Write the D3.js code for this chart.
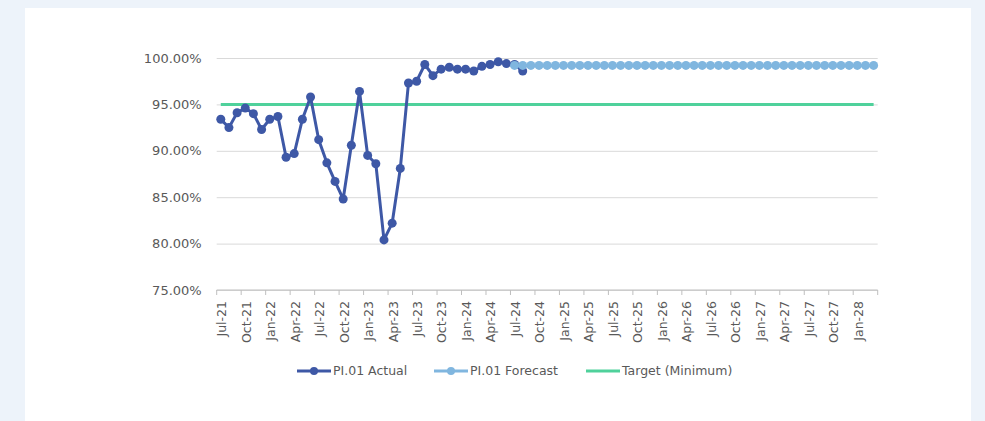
<!DOCTYPE html>
<html>
<head>
<meta charset="utf-8">
<script src="https://cdn.jsdelivr.net/npm/d3@7"></script>
<style>
	body { margin: 0; background: #edf3fa; }
	svg { display: block; }
	.tick text { font-family: "DejaVu Sans", sans-serif; fill: #595959; }
	.legend text { font-family: "DejaVu Sans", sans-serif; fill: #595959; font-size: 12.5px; }
</style>
</head>
<body>
<script>
// months Jul-21 .. Mar-28
var startMonth = new Date(2021, 6, 1);
var endMonth = new Date(2028, 3, 1);
var categories = d3.timeMonth.range(startMonth, endMonth);

var actual = [
	93.4, 92.5, 94.1, 94.6, 94.0, 92.3, 93.4, 93.7, 89.3, 89.7,
	93.4, 95.8, 91.2, 88.7, 86.7, 84.8, 90.6, 96.4, 89.5, 88.6,
	80.4, 82.2, 88.1, 97.3, 97.5, 99.3, 98.1, 98.8, 99.0, 98.8,
	98.8, 98.6, 99.1, 99.3, 99.6, 99.4, 99.3, 98.6
];
var forecastStart = 36;
var forecast = [
	99.2, 99.2, 99.2, 99.2, 99.2, 99.2, 99.2, 99.2, 99.2, 99.2,
	99.2, 99.2, 99.2, 99.2, 99.2, 99.2, 99.2, 99.2, 99.2, 99.2,
	99.2, 99.2, 99.2, 99.2, 99.2, 99.2, 99.2, 99.2, 99.2, 99.2,
	99.2, 99.2, 99.2, 99.2, 99.2, 99.2, 99.2, 99.2, 99.2, 99.2,
	99.2, 99.2, 99.2, 99.2, 99.2
];
var targetValue = 95;
var yTicks = [75, 80, 85, 90, 95, 100];
var seriesNames = ['PI.01 Actual', 'PI.01 Forecast', 'Target (Minimum)'];

var colors = { actual: '#3e58a6', forecast: '#80b6df', target: '#4fd19b' };
var width = 985, height = 421;

var svg = d3.select('body').append('svg')
	.attr('width', width)
	.attr('height', height);

svg.append('rect')
	.attr('x', 25).attr('y', 8)
	.attr('width', 946).attr('height', height - 8)
	.attr('fill', '#fff');

var x = d3.scaleBand()
	.domain(categories.map(function(d, i) { return i; }))
	.range([216.7, 877.7]);

var y = d3.scaleLinear()
	.domain([75, 100])
	.range([290, 58]);

function cx(i) { return x(i) + x.bandwidth() / 2; }

// gridlines + y labels
var yAxis = d3.axisLeft(y)
	.tickValues(yTicks)
	.tickSize(-(877.7 - 216.7))
	.tickPadding(15)
	.tickFormat(function(d) { return d.toFixed(2) + '%'; });

svg.append('g')
	.attr('class', 'y axis')
	.attr('transform', 'translate(216.7,0)')
	.call(yAxis)
	.call(function(g) {
		g.select('.domain').remove();
		g.selectAll('.tick line').attr('stroke', '#d9d9d9');
		g.selectAll('.tick text').attr('font-size', 13).attr('font-family', '"DejaVu Sans", sans-serif');
	});

// x axis
var xTickIdx = categories.map(function(d, i) { return i; }).filter(function(i) { return i % 3 === 0; });
var fmt = d3.timeFormat('%b-%y');

var xAxisG = svg.append('g')
	.attr('class', 'x axis')
	.attr('transform', 'translate(0,290)');

xAxisG.append('line')
	.attr('x1', 216.7).attr('x2', 877.7)
	.attr('stroke', '#bfbfbf');

xAxisG.selectAll('line.tk')
	.data(xTickIdx.concat([categories.length]))
	.enter().append('line')
	.attr('class', 'tk')
	.attr('x1', function(i) { return i < categories.length ? x(i) : 877.7; })
	.attr('x2', function(i) { return i < categories.length ? x(i) : 877.7; })
	.attr('y1', 0).attr('y2', 5)
	.attr('stroke', '#bfbfbf');

xAxisG.selectAll('text')
	.data(xTickIdx)
	.enter().append('text')
	.attr('class', 'tick')
	.attr('transform', function(i) { return 'translate(' + (cx(i) + 1) + ',11) rotate(-90)'; })
	.attr('text-anchor', 'end')
	.attr('dy', '0.35em')
	.attr('font-size', 12.5)
	.attr('font-family', '"DejaVu Sans", sans-serif')
	.attr('fill', '#595959')
	.text(function(i) { return fmt(categories[i]); });

var line = d3.line()
	.x(function(d) { return cx(d.i); })
	.y(function(d) { return y(d.v); });

// target
var targetData = categories.map(function(d, i) { return { i: i, v: targetValue }; });
svg.append('path')
	.datum(targetData)
	.attr('d', line)
	.attr('fill', 'none')
	.attr('stroke', colors.target)
	.attr('stroke-width', 3);

function drawSeries(data, color) {
	svg.append('path')
		.datum(data)
		.attr('d', line)
		.attr('fill', 'none')
		.attr('stroke', color)
		.attr('stroke-width', 3)
		.attr('stroke-linejoin', 'round');
	svg.append('g').selectAll('circle')
		.data(data)
		.enter().append('circle')
		.attr('cx', function(d) { return cx(d.i); })
		.attr('cy', function(d) { return y(d.v); })
		.attr('r', 4.5)
		.attr('fill', color);
}

drawSeries(actual.map(function(v, i) { return { i: i, v: v }; }), colors.actual);
drawSeries(forecast.map(function(v, i) { return { i: i + forecastStart, v: v }; }), colors.forecast);

// legend
var legendItems = [
	{ name: seriesNames[0], color: colors.actual, marker: true, x: 297 },
	{ name: seriesNames[1], color: colors.forecast, marker: true, x: 434 },
	{ name: seriesNames[2], color: colors.target, marker: false, x: 586 }
];
var legend = svg.append('g').attr('class', 'legend');
legendItems.forEach(function(d) {
	var g = legend.append('g').attr('transform', 'translate(' + d.x + ',371)');
	g.append('line').attr('x1', 0).attr('x2', 34)
		.attr('stroke', d.color).attr('stroke-width', 3);
	if (d.marker) {
		g.append('circle').attr('cx', 17).attr('r', 4).attr('fill', d.color);
	}
	g.append('text').attr('x', 36).attr('dy', '0.35em').text(d.name);
});
</script>
</body>
</html>
